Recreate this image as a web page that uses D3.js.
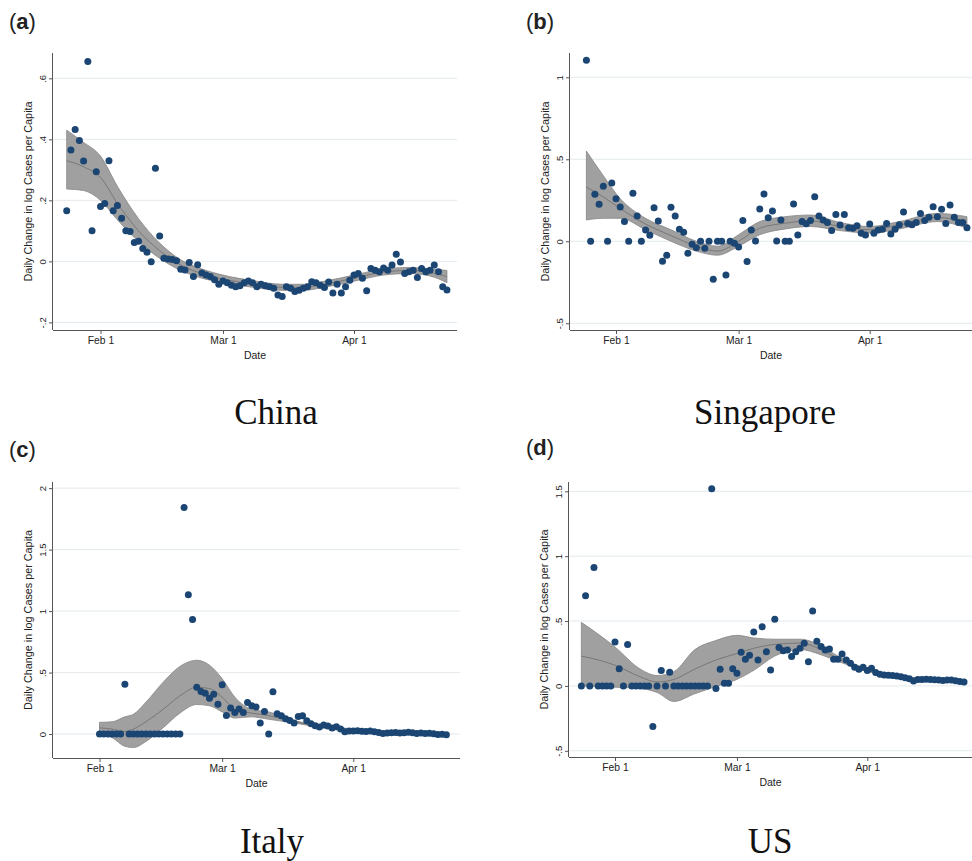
<!DOCTYPE html>
<head>
    <meta charset="utf-8">
    <title>Daily Change in log Cases per Capita</title>
    <script type="text/javascript" src="https://d3js.org/d3.v7.min.js"></script>
    <style>
        body { margin: 0; background: #fff; }
        text { font-family: "Liberation Sans", Arial, sans-serif; fill: #222; }
        .grid { stroke: #e3e9ed; stroke-width: 1; }
        .axisline { stroke: #555; stroke-width: 1; }
        .tick line { stroke: #555; }
        .band { fill: #a0a0a0; stroke: #858585; stroke-width: 0.8; }
        .fit { fill: none; stroke: #777; stroke-width: 1; }
        .dot { fill: #1b4572; }
        .country { font-family: "Liberation Serif", "Times New Roman", serif; font-size: 35px; fill: #111; }
    </style>
</head>
<body>
    <div id="container"></div>

<script>
    //-----------------------------DATA-----------------------------//
    // daily values, one per day from the start date
    const chinaStart = "2020-01-24";
    const chinaValues = [0.166, 0.365, 0.432, 0.396, 0.329, 0.655, 0.10, 0.294,
        0.18, 0.19, 0.33, 0.166, 0.183, 0.141, 0.10, 0.098, 0.062, 0.066, 0.042, 0.03, -0.001, 0.305,
        0.083, 0.01, 0.008, 0.006, 0.002, -0.026, -0.028, -0.004, -0.05, -0.011, -0.038, -0.045, -0.05,
        -0.06, -0.075, -0.064, -0.07, -0.078, -0.083, -0.08, -0.07, -0.064, -0.07, -0.083, -0.075, -0.08,
        -0.083, -0.088, -0.11, -0.115, -0.083, -0.088, -0.099, -0.095, -0.088, -0.083, -0.067, -0.07,
        -0.078, -0.086, -0.068, -0.104, -0.075, -0.104, -0.083, -0.062, -0.045, -0.04, -0.055, -0.096,
        -0.023, -0.029, -0.034, -0.022, -0.029, -0.012, 0.023, -0.002, -0.04, -0.034, -0.029, -0.053,
        -0.023, -0.034, -0.029, -0.012, -0.034, -0.083, -0.094];

    const singaporeStart = "2020-01-25";
    const singaporeValues = [1.104, 0, 0.287, 0.226, 0.335, 0, 0.356,
        0.26, 0.209, 0.12, 0, 0.293, 0.154, 0, 0.069, 0.037, 0.205, 0.124, -0.122, -0.085, 0.207,
        0.154, 0.073, 0.055, -0.073, -0.018, -0.039, 0, -0.043, 0, -0.232, 0, 0, -0.205, 0, -0.012,
        -0.035, 0.126, -0.124, 0.069, 0.002, 0.197, 0.288, 0.144, 0.185, 0.002, 0.13, 0, 0, 0.227,
        0.038, 0.12, 0.107, 0.126, 0.272, 0.154, 0.13, 0.114, 0.065, 0.164, 0.099, 0.164, 0.083,
        0.079, 0.095, 0.049, 0.038, 0.105, 0.049, 0.069, 0.073, 0.109, 0.045, 0.073, 0.1, 0.179,
        0.109, 0.1, 0.114, 0.17, 0.126, 0.146, 0.211, 0.15, 0.195, 0.109, 0.221, 0.146, 0.114,
        0.114, 0.083];

    const italyStart = "2020-02-01";
    const italyValues = [0, 0, 0, 0, 0, 0, 0.405, 0, 0, 0, 0, 0, 0, 0, 0, 0, 0, 0, 0, 0,
        1.843, 1.132, 0.932, 0.381, 0.346, 0.332, 0.292, 0.324, 0.243, 0.4, 0.151, 0.211, 0.176,
        0.203, 0.176, 0.257, 0.23, 0.219, 0.089, 0.184, 0.0, 0.343, 0.165, 0.149, 0.124, 0.111,
        0.089, 0.143, 0.149, 0.108, 0.084, 0.068, 0.057, 0.073, 0.065, 0.049, 0.059, 0.041, 0.019,
        0.025, 0.024, 0.027, 0.022, 0.02, 0.025, 0.018, 0.012, 0.005, 0.008, 0.01, 0.012, 0.008,
        0.01, 0.014, 0.01, 0.005, 0.008, 0.004, 0.006, 0.002, -0.003, -0.002, -0.005];

    const usStart = "2020-01-24";
    const usValues = [0, 0.695, 0, 0.913, 0, 0, 0, 0,
        0.338, 0.133, 0, 0.32, 0, 0, 0, 0, 0, -0.313, 0, 0.118, 0, 0.105, 0, 0, 0, 0, 0, 0, 0, 0, 0,
        1.52, -0.02, 0.128, 0.02, 0.02, 0.133,
        0.097, 0.259, 0.205, 0.236, 0.415, 0.2, 0.456, 0.264, 0.123, 0.513, 0.297, 0.272, 0.277,
        0.226, 0.264, 0.29, 0.328, 0.187, 0.577, 0.344, 0.303, 0.277, 0.285, 0.205, 0.205, 0.246,
        0.2, 0.174, 0.144, 0.128, 0.144,
        0.118, 0.136, 0.103, 0.09, 0.085, 0.082, 0.08, 0.076, 0.07, 0.062, 0.055, 0.038, 0.05, 0.05,
        0.052, 0.05, 0.048, 0.045, 0.042, 0.045, 0.045, 0.04, 0.035, 0.03];

    // smoothed fit with confidence band: [date, lower, fit, upper]
    const chinaBand = [
        ["2020-01-24", 0.237, 0.33, 0.43], ["2020-01-28", 0.232, 0.31, 0.39],
        ["2020-02-01", 0.2, 0.275, 0.345], ["2020-02-05", 0.136, 0.19, 0.246],
        ["2020-02-10", 0.065, 0.1, 0.14], ["2020-02-15", 0.01, 0.035, 0.06],
        ["2020-02-20", -0.03, -0.012, 0.005], ["2020-02-25", -0.055, -0.04, -0.025],
        ["2020-03-01", -0.07, -0.058, -0.045], ["2020-03-08", -0.085, -0.074, -0.063],
        ["2020-03-15", -0.095, -0.085, -0.075], ["2020-03-20", -0.095, -0.085, -0.075],
        ["2020-03-25", -0.085, -0.075, -0.065], ["2020-04-01", -0.065, -0.055, -0.045],
        ["2020-04-08", -0.045, -0.035, -0.025], ["2020-04-14", -0.04, -0.03, -0.02],
        ["2020-04-19", -0.048, -0.036, -0.024], ["2020-04-23", -0.07, -0.05, -0.03]];

    const singaporeBand = [
        ["2020-01-25", 0.13, 0.33, 0.55], ["2020-01-29", 0.14, 0.27, 0.4],
        ["2020-02-02", 0.14, 0.2, 0.26], ["2020-02-08", 0.07, 0.105, 0.14],
        ["2020-02-14", 0.0, 0.035, 0.07], ["2020-02-20", -0.06, -0.03, 0.0],
        ["2020-02-25", -0.085, -0.06, -0.03], ["2020-03-01", -0.03, 0.0, 0.04],
        ["2020-03-06", 0.04, 0.08, 0.12], ["2020-03-12", 0.075, 0.11, 0.15],
        ["2020-03-18", 0.09, 0.125, 0.16], ["2020-03-25", 0.065, 0.09, 0.115],
        ["2020-04-01", 0.05, 0.07, 0.09], ["2020-04-08", 0.075, 0.1, 0.12],
        ["2020-04-17", 0.12, 0.145, 0.17], ["2020-04-24", 0.08, 0.115, 0.15]];

    const italyBand = [
        ["2020-02-01", 0.0, 0.05, 0.095], ["2020-02-04", -0.03, 0.04, 0.1],
        ["2020-02-07", -0.1, 0.02, 0.14], ["2020-02-09", -0.11, 0.04, 0.16],
        ["2020-02-12", -0.06, 0.1, 0.26], ["2020-02-16", 0.05, 0.2, 0.42],
        ["2020-02-20", 0.17, 0.31, 0.55], ["2020-02-24", 0.24, 0.38, 0.6],
        ["2020-02-27", 0.23, 0.37, 0.56], ["2020-03-01", 0.18, 0.3, 0.45],
        ["2020-03-04", 0.13, 0.2, 0.3], ["2020-03-08", 0.14, 0.17, 0.2],
        ["2020-03-12", 0.12, 0.15, 0.18], ["2020-03-18", 0.09, 0.1, 0.11],
        ["2020-03-25", 0.05, 0.06, 0.07], ["2020-04-01", 0.02, 0.03, 0.04],
        ["2020-04-10", 0.005, 0.012, 0.02], ["2020-04-23", -0.01, 0.0, 0.01]];

    const usBand = [
        ["2020-01-24", 0.0, 0.23, 0.49], ["2020-02-01", -0.01, 0.16, 0.3],
        ["2020-02-07", -0.02, 0.07, 0.13], ["2020-02-11", -0.05, 0.03, 0.08],
        ["2020-02-15", -0.12, 0.05, 0.11], ["2020-02-20", -0.06, 0.13, 0.28],
        ["2020-02-25", -0.005, 0.2, 0.35], ["2020-03-01", 0.05, 0.25, 0.39],
        ["2020-03-05", 0.12, 0.29, 0.37], ["2020-03-10", 0.23, 0.32, 0.36],
        ["2020-03-16", 0.28, 0.33, 0.36], ["2020-03-21", 0.24, 0.28, 0.31],
        ["2020-03-25", 0.19, 0.21, 0.23], ["2020-04-01", 0.11, 0.12, 0.13],
        ["2020-04-10", 0.058, 0.065, 0.072], ["2020-04-24", 0.022, 0.03, 0.038]];

    // ticks
    const xTickDates = ["2020-02-01", "2020-03-01", "2020-04-01"];
    const xTickLabels = ["Feb 1", "Mar 1", "Apr 1"];
    const chinaYTicks = [-0.2, 0, 0.2, 0.4, 0.6];
    const singaporeYTicks = [-0.5, 0, 0.5, 1];
    const italyYTicks = [0, 0.5, 1, 1.5, 2];
    const usYTicks = [-0.5, 0, 0.5, 1, 1.5];

    const letters = ["a", "b", "c", "d"];
    const countries = ["China", "Singapore", "Italy", "US"];

    //----------------------------LAYOUT----------------------------//
    const width = 972;
    const height = 861;
    const parse = d3.timeParse("%Y-%m-%d");

    const panels = [
        { start: chinaStart, values: chinaValues, band: chinaBand, yTicks: chinaYTicks,
          left: 53, right: 457, top: 53, bottom: 330, feb1X: 100.5, apr1X: 354, yDomain: [-0.225, 0.683],
          letterX: 9, letterY: 29, titleX: 276, titleY: 424 },
        { start: singaporeStart, values: singaporeValues, band: singaporeBand, yTicks: singaporeYTicks,
          left: 570, right: 975, top: 53, bottom: 330, feb1X: 616, apr1X: 869.7, yDomain: [-0.541, 1.148],
          letterX: 526, letterY: 29, titleX: 765, titleY: 424 },
        { start: italyStart, values: italyValues, band: italyBand, yTicks: italyYTicks,
          left: 53, right: 460, top: 482, bottom: 758, feb1X: 99.5, apr1X: 353.3, yDomain: [-0.195, 2.05],
          letterX: 9, letterY: 457, titleX: 272, titleY: 853 },
        { start: usStart, values: usValues, band: usBand, yTicks: usYTicks,
          left: 569, right: 975, top: 482, bottom: 757, feb1X: 615, apr1X: 867.3, yDomain: [-0.548, 1.572],
          letterX: 526, letterY: 455, titleX: 770, titleY: 853 }
    ];

    // Stata style numbers: .5 instead of 0.5
    const fmt = function(v) {
        if (v === 0) return "0";
        return String(v).replace("0.", ".");
    };

    const svg = d3.select("div#container").append("svg")
        .attr("width", width)
        .attr("height", height)
        .style("display", "block");

    //---------------------------DRAWING----------------------------//
    panels.forEach(function(p, k) {
        const g = svg.append("g");

        const xScale = d3.scaleTime()
            .domain([parse(xTickDates[0]), parse(xTickDates[2])])
            .range([p.feb1X, p.apr1X]);
        const yScale = d3.scaleLinear()
            .domain(p.yDomain)
            .range([p.bottom, p.top]);

        const start = parse(p.start);
        const points = p.values.map(function(v, i) {
            return { date: d3.timeDay.offset(start, i), value: v };
        });
        const band = p.band.map(function(r) {
            return { date: parse(r[0]), lo: r[1], fit: r[2], hi: r[3] };
        });

        // grid
        g.selectAll(".grid")
            .data(p.yTicks)
            .enter()
            .append("line")
            .attr("class", "grid")
            .attr("x1", p.left)
            .attr("x2", p.right)
            .attr("y1", function(d) { return yScale(d); })
            .attr("y2", function(d) { return yScale(d); });

        // band + fit
        const area = d3.area()
            .curve(d3.curveMonotoneX)
            .x(function(d) { return xScale(d.date); })
            .y0(function(d) { return yScale(d.lo); })
            .y1(function(d) { return yScale(d.hi); });
        const line = d3.line()
            .curve(d3.curveMonotoneX)
            .x(function(d) { return xScale(d.date); })
            .y(function(d) { return yScale(d.fit); });

        g.append("path").attr("class", "band").attr("d", area(band));
        g.append("path").attr("class", "fit").attr("d", line(band));

        // points
        g.selectAll(".dot")
            .data(points)
            .enter()
            .append("circle")
            .attr("class", "dot")
            .attr("cx", function(d) { return xScale(d.date); })
            .attr("cy", function(d) { return yScale(d.value); })
            .attr("r", 3.5);

        // axes
        const xaxis = d3.axisBottom(xScale)
            .tickValues(xTickDates.map(parse))
            .tickFormat(function(d, i) { return xTickLabels[i]; })
            .tickSize(4)
            .tickPadding(3);
        const gx = g.append("g")
            .attr("transform", "translate(0," + p.bottom + ")")
            .call(xaxis);
        gx.select(".domain").remove();
        gx.selectAll("text").style("font-size", "10.3px").style("font-family", "Liberation Sans, Arial, sans-serif").attr("fill", "#222");

        const yaxis = d3.axisLeft(yScale)
            .tickValues(p.yTicks)
            .tickFormat(fmt)
            .tickSize(4);
        const gy = g.append("g")
            .attr("transform", "translate(" + p.left + ",0)")
            .call(yaxis);
        gy.select(".domain").remove();
        gy.selectAll("text")
            .attr("x", 0)
            .attr("y", -7)
            .attr("dy", 0)
            .attr("text-anchor", "middle")
            .attr("transform", "rotate(-90)")
            .attr("fill", "#222")
            .style("font-size", "9.5px")
            .style("font-family", "Liberation Sans, Arial, sans-serif");

        g.append("line").attr("class", "axisline")
            .attr("x1", p.left).attr("x2", p.right)
            .attr("y1", p.bottom + 0.5).attr("y2", p.bottom + 0.5);
        g.append("line").attr("class", "axisline")
            .attr("x1", p.left - 0.5).attr("x2", p.left - 0.5)
            .attr("y1", p.top).attr("y2", p.bottom);

        // axis titles
        g.append("text")
            .attr("x", (p.left + Math.min(p.right, width)) / 2)
            .attr("y", p.bottom + 29)
            .attr("text-anchor", "middle")
            .style("font-size", "10.5px")
            .text("Date");

        g.append("text")
            .attr("transform", "translate(" + (p.left - 21) + "," + ((p.top + p.bottom) / 2) + ") rotate(-90)")
            .attr("text-anchor", "middle")
            .style("font-size", "10.8px")
            .text("Daily Change in log Cases per Capita");

        // panel letter
        const lt = g.append("text")
            .attr("x", p.letterX)
            .attr("y", p.letterY)
            .style("font-size", "22px")
            .attr("fill", "#111");
        lt.append("tspan").text("(");
        lt.append("tspan").style("font-weight", "bold").text(letters[k]);
        lt.append("tspan").text(")");

        // country name
        g.append("text")
            .attr("class", "country")
            .attr("x", p.titleX)
            .attr("y", p.titleY)
            .attr("text-anchor", "middle")
            .text(countries[k]);
    });
</script>
</body>
